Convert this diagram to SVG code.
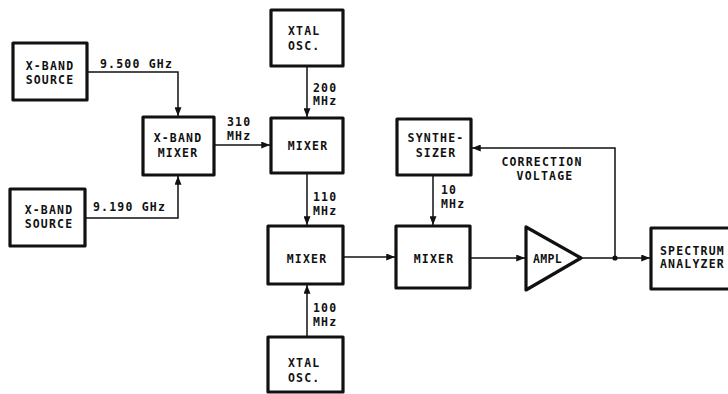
<svg xmlns="http://www.w3.org/2000/svg" width="728" height="394" viewBox="0 0 728 394">
<style>
.box{fill:#fff;stroke:#111;stroke-width:3.2;stroke-linejoin:round}
.ln{fill:none;stroke:#111;stroke-width:1.5}
text{font-family:"DejaVu Sans Mono","Liberation Mono",monospace;font-weight:bold;font-size:11.5px;fill:#111;letter-spacing:1.2px}
.c{text-anchor:middle}
</style>
<defs>
<marker id="ah" viewBox="0 0 10 8" refX="10" refY="4" markerWidth="9" markerHeight="7" markerUnits="userSpaceOnUse" orient="auto">
<path d="M0,0 L10,4 L0,8 Z" fill="#111"/>
</marker>
</defs>
<rect width="728" height="394" fill="#fff"/>
<g id="connectors">
<path class="ln" d="M87,72 H178 V116" marker-end="url(#ah)"/>
<path class="ln" d="M85,218 H178 V176" marker-end="url(#ah)"/>
<path class="ln" d="M214,145 H270" marker-end="url(#ah)"/>
<path class="ln" d="M307,66 V117" marker-end="url(#ah)"/>
<path class="ln" d="M307,173 V225" marker-end="url(#ah)"/>
<path class="ln" d="M307,337 V285" marker-end="url(#ah)"/>
<path class="ln" d="M343,257 H395" marker-end="url(#ah)"/>
<path class="ln" d="M433,175 V225" marker-end="url(#ah)"/>
<path class="ln" d="M470,258 H525" marker-end="url(#ah)"/>
<path class="ln" d="M581,258 H650" marker-end="url(#ah)"/>
<path class="ln" d="M615,258 V148 H472" marker-end="url(#ah)"/>
<circle cx="615" cy="258" r="2.6" fill="#111"/>
<text x="100" y="68">9.500 GHz</text>
<text x="93" y="211">9.190 GHz</text>
<text x="227" y="126">310</text>
<text x="227" y="140">MHz</text>
<text x="313" y="92">200</text>
<text x="313" y="105">MHz</text>
<text x="313" y="201">110</text>
<text x="313" y="215">MHz</text>
<text x="313" y="312">100</text>
<text x="313" y="326">MHz</text>
<text x="441" y="194">10</text>
<text x="441" y="208">MHz</text>
<text class="c" x="542" y="166">CORRECTION</text>
<text class="c" x="545" y="180">VOLTAGE</text>
</g>
<g id="src-top">
<rect class="box" x="13" y="43" width="74" height="57"/>
<text class="c" x="50" y="70">X-BAND</text>
<text class="c" x="50" y="84">SOURCE</text>
</g>
<g id="src-bot">
<rect class="box" x="10" y="189" width="75" height="57"/>
<text class="c" x="49" y="214">X-BAND</text>
<text class="c" x="49" y="228">SOURCE</text>
</g>
<g id="xband-mixer">
<rect class="box" x="143" y="117" width="71" height="58"/>
<text class="c" x="178" y="142">X-BAND</text>
<text class="c" x="178" y="157">MIXER</text>
</g>
<g id="xtal-top">
<rect class="box" x="271" y="10" width="72" height="56"/>
<text x="288" y="35">XTAL</text>
<text x="288" y="50">OSC.</text>
</g>
<g id="mixer1">
<rect class="box" x="271" y="118" width="72" height="55"/>
<text class="c" x="308" y="150">MIXER</text>
</g>
<g id="mixer2">
<rect class="box" x="268" y="226" width="75" height="58"/>
<text class="c" x="307" y="263">MIXER</text>
</g>
<g id="xtal-bot">
<rect class="box" x="268" y="337" width="75" height="55"/>
<text x="288" y="367">XTAL</text>
<text x="288" y="382">OSC.</text>
</g>
<g id="synth">
<rect class="box" x="397" y="119" width="74" height="56"/>
<text class="c" x="436" y="142">SYNTHE-</text>
<text class="c" x="436" y="157">SIZER</text>
</g>
<g id="mixer3">
<rect class="box" x="396" y="226" width="74" height="62"/>
<text class="c" x="434" y="263">MIXER</text>
</g>
<g id="ampl">
<path class="box" d="M526,227 L526,290 L581,258 Z"/>
<text x="533" y="263" style="letter-spacing:0.3px;font-size:11.5px">AMPL</text>
</g>
<g id="spectrum">
<rect class="box" x="651" y="228" width="82" height="61"/>
<text x="660" y="255">SPECTRUM</text>
<text x="660" y="268">ANALYZER</text>
</g>
</svg>
